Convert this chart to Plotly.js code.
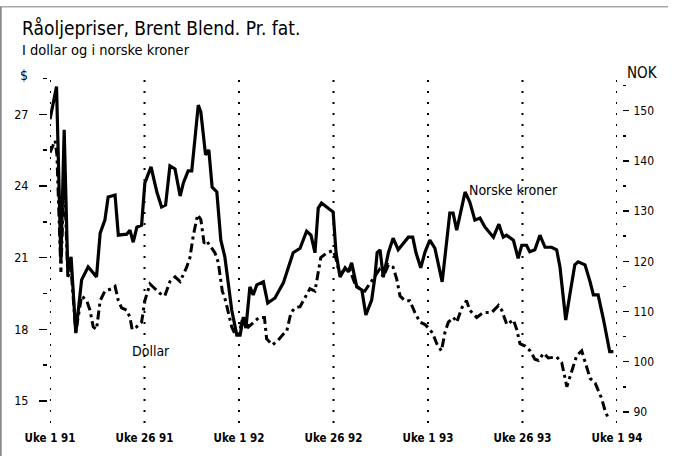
<!DOCTYPE html>
<html>
<head>
<meta charset="utf-8">
<script src="https://cdn.plot.ly/plotly-3.0.1.min.js"></script>
<style>html,body{margin:0;padding:0;background:#fff;}#chart{width:682px;height:456px;}</style>
</head>
<body>
<div id="chart"></div>
<script>
// Week index from Uke 1 1991
const tickWeeks = [0, 26, 52, 78, 104, 130, 156];
const tickLabels = ["Uke 1 91", "Uke 26 91", "Uke 1 92", "Uke 26 92", "Uke 1 93", "Uke 26 93", "Uke 1 94"];

// Norske kroner per fat (right axis)
const nokWeeks = [0.0,1.8,3.0,3.9,4.9,5.8,7.1,8.7,10.5,12.8,13.8,15.1,16.0,17.9,18.8,21.1,22.0,22.9,23.9,25.2,26.1,27.8,29.4,30.7,31.8,33.0,34.4,35.8,36.7,38.0,39.0,40.8,41.5,42.8,43.7,44.6,45.9,47.0,48.1,50.0,51.4,52.3,53.2,53.9,55.0,55.9,56.9,58.7,59.9,61.9,64.2,66.9,68.8,70.6,71.8,72.9,73.8,74.7,77.9,78.7,79.8,81.2,82.1,83.0,84.4,85.8,86.9,88.5,89.4,90.0,90.8,91.7,93.1,94.4,95.8,97.2,98.6,99.8,100.7,102.0,103.2,104.5,105.9,107.9,110.0,110.9,111.9,113.3,114.2,115.5,116.9,118.3,119.7,122.0,123.5,124.7,125.6,127.5,128.8,129.8,131.1,132.0,133.4,134.8,136.2,138.0,139.4,140.3,141.9,143.1,144.4,145.3,147.2,148.6,149.5,150.8,152.2,154.0,155.0];
const nokValues = [148.3,154.8,119.9,146.2,117.9,120.9,105.7,116.3,118.9,116.9,125.6,128.2,132.8,133.2,125.2,125.4,126.2,123.8,126.8,127.2,135.6,138.8,133.8,130.8,131.2,139.0,138.4,133.0,135.6,138.0,138.0,151.1,149.7,141.2,142.2,134.8,133.8,124.2,120.9,110.3,105.3,105.3,108.9,106.7,114.9,113.3,115.3,115.9,111.7,112.7,115.7,121.7,122.6,126.0,125.2,121.7,130.6,131.6,129.8,121.7,116.9,118.7,117.9,119.7,114.9,114.3,109.3,112.3,116.9,121.7,122.3,116.9,121.7,124.6,122.3,123.6,124.8,124.8,121.7,118.7,121.9,124.2,122.6,115.9,129.6,129.6,126.2,130.8,133.8,131.8,128.2,128.6,126.8,124.8,127.4,124.8,125.2,124.2,120.6,123.2,123.2,121.9,122.3,125.2,122.8,122.8,122.3,118.9,108.3,113.7,119.3,119.9,119.3,115.9,113.3,113.3,108.7,102.0,102.0];

// Dollar per fat (left axis)
const usdWeeks = [0.0,1.4,1.9,3.0,3.9,4.9,5.8,7.1,8.7,10.1,11.0,11.9,12.8,13.8,15.1,17.0,17.9,18.8,19.7,21.1,22.0,22.6,23.8,25.2,26.1,27.5,28.9,30.3,31.6,33.0,34.4,35.8,37.6,38.5,39.4,40.6,41.5,42.4,43.1,44.0,45.4,46.3,46.8,47.4,48.3,49.1,50.0,50.9,52.0,52.9,53.6,54.6,56.0,57.5,59.0,59.6,61.2,62.8,64.2,65.1,66.3,67.4,68.8,70.1,71.5,72.9,73.6,74.5,76.1,77.9,78.8,79.7,81.1,82.5,83.9,85.2,86.6,88.0,89.4,90.6,91.7,93.1,94.4,95.4,96.3,97.6,99.0,100.4,101.8,103.2,104.5,105.4,106.4,107.7,108.7,109.6,111.0,111.9,113.3,114.6,115.5,117.4,119.2,121.5,123.4,124.3,125.7,127.5,128.4,129.3,130.7,132.1,133.4,134.4,135.8,137.1,139.4,140.8,142.2,143.6,144.9,146.3,147.7,148.6,150.0,150.9,151.8,152.7,153.4];
const usdValues = [25.4,25.9,25.3,20.4,24.5,20.2,20.5,17.9,19.4,19.2,18.8,18.1,18.0,19.2,19.6,19.7,19.8,19.2,18.9,18.8,18.5,18.0,18.1,18.3,19.2,19.9,19.7,19.5,19.4,20.0,20.2,20.0,20.6,21.0,21.9,22.8,22.6,21.6,21.7,21.5,21.2,20.8,20.3,19.6,19.2,18.7,18.1,17.8,17.8,18.4,18.5,18.1,18.3,18.5,18.5,17.6,17.35,17.55,17.8,17.9,18.7,18.9,18.95,19.3,19.7,19.6,20.2,21.0,21.2,21.3,20.9,20.3,20.5,20.5,19.9,19.7,19.6,19.9,20.2,20.5,20.2,20.7,20.6,20.1,19.4,19.2,19.2,18.7,18.3,18.2,18.0,17.8,17.4,17.1,17.9,18.3,18.5,18.3,18.9,19.2,18.8,18.5,18.7,18.7,19.0,18.8,18.2,18.4,18.0,17.4,17.3,17.1,16.75,16.7,17.0,16.8,16.85,16.6,15.6,16.3,16.9,17.1,16.4,15.95,15.75,15.45,15.1,14.6,14.35];

const FONT = "'DejaVu Sans Condensed', 'Liberation Sans Narrow', 'Liberation Sans', sans-serif";

const traces = [
  {x: nokWeeks, y: nokValues, yaxis: 'y2', type: 'scatter', mode: 'lines', name: 'Norske kroner',
   line: {color: '#000', width: 3.2}},
  {x: usdWeeks, y: usdValues, yaxis: 'y', type: 'scatter', mode: 'lines', name: 'Dollar',
   line: {color: '#000', width: 3, dash: '9px,4px,3px,4px'}}
];

const shapes = tickWeeks.map(w => ({
  type: 'line', xref: 'x', yref: 'paper', x0: w, x1: w, y0: 0, y1: 1,
  line: {color: '#000', width: 2, dash: '2px,9px'}
}));
// frame lines
shapes.push({type: 'line', xref: 'paper', yref: 'paper', x0: -0.088, x1: 1.09, y0: 1.189, y1: 1.189, line: {color: '#aaa', width: 1.5}});
shapes.push({type: 'line', xref: 'paper', yref: 'paper', x0: -0.087, x1: -0.087, y0: 1.189, y1: -0.1, line: {color: '#888', width: 2}});

const layout = {
  width: 682, height: 456,
  margin: {l: 50, r: 65, t: 73, b: 33},
  paper_bgcolor: '#fff', plot_bgcolor: '#fff',
  showlegend: false,
  font: {family: FONT, color: '#000', size: 12},
  xaxis: {
    range: [0, 156], tickvals: tickWeeks, ticktext: tickLabels,
    showgrid: false, zeroline: false, showline: false, ticks: '',
    tickfont: {family: FONT, size: 11.5, weight: 'bold', color: '#000'},
    ticklabelstandoff: 6
  },
  yaxis: {
    range: [14.08, 28.73], tick0: 15, dtick: 3,
    anchor: 'free', position: 0, shift: -3,
    showgrid: false, zeroline: false, showline: false,
    ticks: 'outside', ticklen: 8, tickwidth: 1.5, tickcolor: '#000',
    minor: {dtick: 1.5, tick0: 15, ticks: 'outside', ticklen: 4, tickwidth: 1.5, tickcolor: '#000', showgrid: false},
    tickfont: {family: FONT, size: 12.5, color: '#000'},
    ticklabelstandoff: 8
  },
  yaxis2: {
    range: [87.8, 157.5], tick0: 90, dtick: 10,
    overlaying: 'y', side: 'right', anchor: 'free', position: 1, shift: 5,
    showgrid: false, zeroline: false, showline: false,
    ticks: 'outside', ticklen: 6, tickwidth: 1.5, tickcolor: '#000',
    minor: {dtick: 5, tick0: 90, ticks: 'outside', ticklen: 3, tickwidth: 1.5, tickcolor: '#000', showgrid: false},
    tickfont: {family: FONT, size: 12, color: '#000'},
    ticklabelstandoff: 2
  },
  shapes: shapes,
  annotations: [
    {text: 'Råoljepriser, Brent Blend. Pr. fat.', xref: 'paper', yref: 'paper', x: -0.0511, y: 1.1286,
     xanchor: 'left', yanchor: 'middle', showarrow: false, borderpad: 0, font: {family: FONT, size: 19, color: '#000'}},
    {text: 'I dollar og i norske kroner', xref: 'paper', yref: 'paper', x: -0.0511, y: 1.0657,
     xanchor: 'left', yanchor: 'middle', showarrow: false, borderpad: 0, font: {family: FONT, size: 14.5, color: '#000'}},
    {text: '$', xref: 'paper', yref: 'paper', x: -0.0467, y: 0.994,
     xanchor: 'center', yanchor: 'middle', showarrow: false, font: {family: FONT, size: 14, color: '#000'}},
    {text: 'NOK', xref: 'paper', yref: 'paper', x: 1.0141, y: 1.0,
     xanchor: 'left', yanchor: 'middle', showarrow: false, font: {family: FONT, size: 15, color: '#000'}},
    {text: 'Dollar', xref: 'x', yref: 'y', x: 27.8, y: 17.1,
     xanchor: 'center', yanchor: 'middle', showarrow: false, font: {family: FONT, size: 14, color: '#000'}},
    {text: 'Norske kroner', xref: 'x', yref: 'y2', x: 127.6, y: 134.2,
     xanchor: 'center', yanchor: 'middle', showarrow: false, font: {family: FONT, size: 14, color: '#000'}}
  ]
};

Plotly.newPlot('chart', traces, layout, {staticPlot: true, displayModeBar: false});
</script>
</body>
</html>
